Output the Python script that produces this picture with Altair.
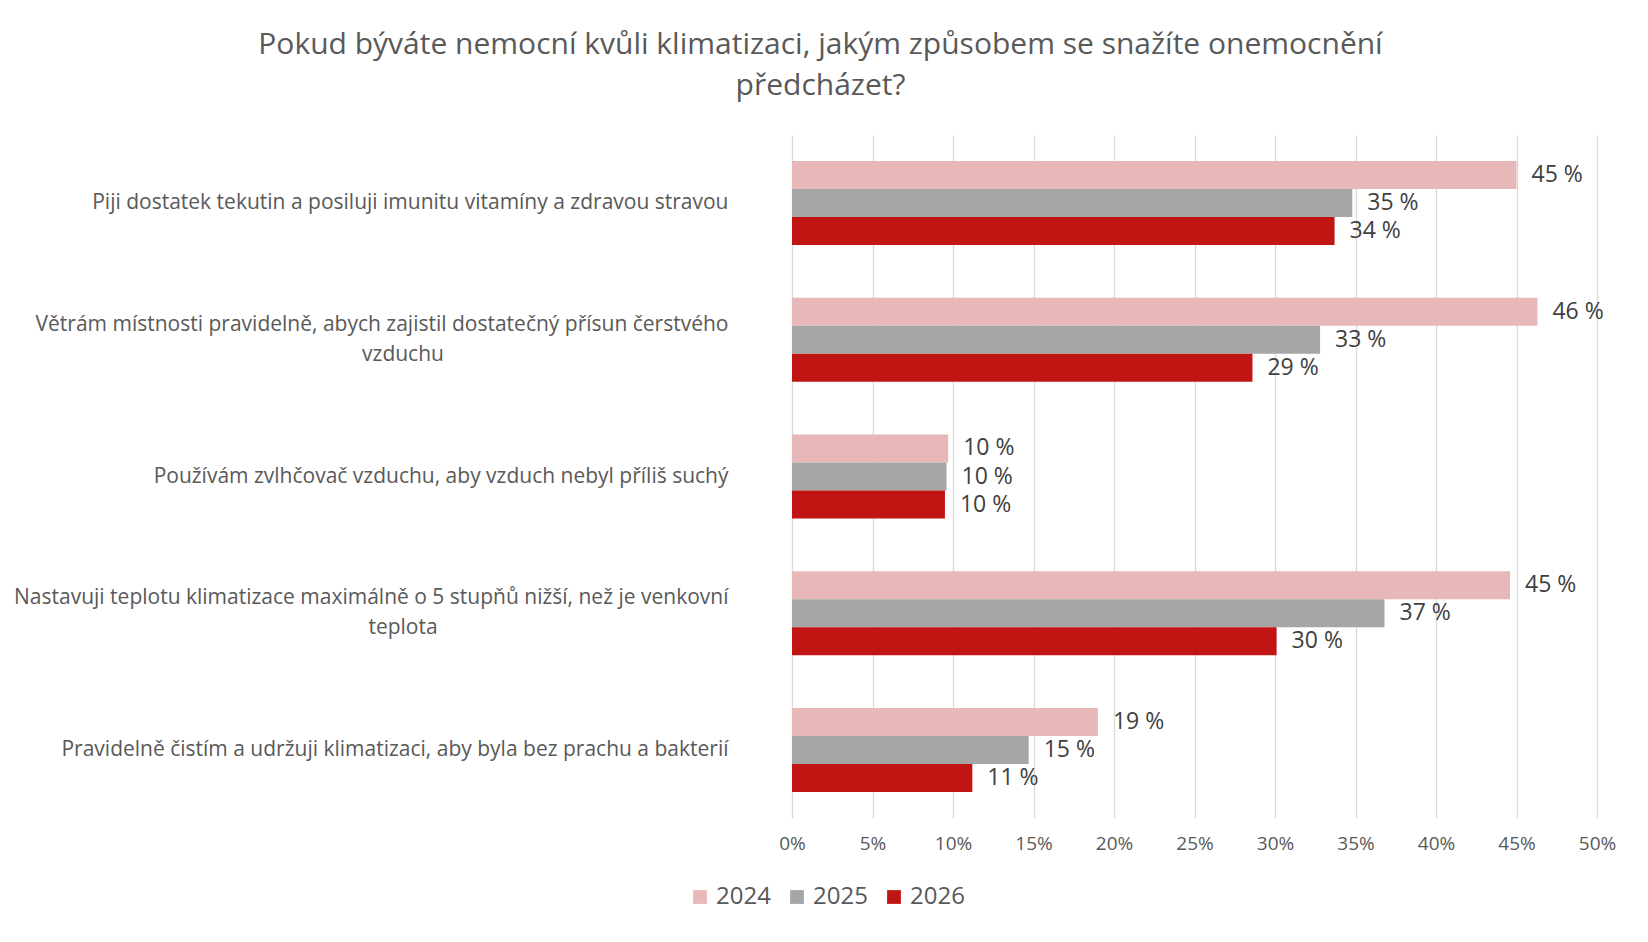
import altair as alt
import pandas as pd

# Kategorie odpovědí: první a druhý řádek popisku
kategorie = [
    "Piji dostatek tekutin a posiluji imunitu vitamíny a zdravou stravou",
    "Větrám místnosti pravidelně, abych zajistil dostatečný přísun čerstvého",
    "Používám zvlhčovač vzduchu, aby vzduch nebyl příliš suchý",
    "Nastavuji teplotu klimatizace maximálně o 5 stupňů nižší, než je venkovní",
    "Pravidelně čistím a udržuji klimatizaci, aby byla bez prachu a bakterií",
]
druhy_radek = ["", "vzduchu", "", "teplota", ""]
roky = ["2024", "2025", "2026"]
barvy = ["#E8B8B8", "#A6A6A6", "#C01513"]

# Hodnoty v procentech
hodnoty_2024 = [45.0, 46.3, 9.7, 44.6, 19.0]
hodnoty_2025 = [34.8, 32.8, 9.6, 36.8, 14.7]
hodnoty_2026 = [33.7, 28.6, 9.5, 30.1, 11.2]

osa_x = [0, 5, 10, 15, 20, 25, 30, 35, 40, 45, 50]

rows = []
for rok, hodnoty in zip(roky, [hodnoty_2024, hodnoty_2025, hodnoty_2026]):
    for kat, h in zip(kategorie, hodnoty):
        rows.append({"kategorie": kat, "rok": rok, "hodnota": h})
df = pd.DataFrame(rows)

radky = pd.DataFrame({"kategorie": kategorie, "radek2": druhy_radek})
radky = radky[radky["radek2"] != ""]

# dvouřádkové popisky: první řádek na ose posunut nahoru, druhý jako text
dvouradkove = "|".join(radky["kategorie"])
test_dvou = "indexof('" + dvouradkove + "', datum.label) >= 0"

y_enc = alt.Y(
    "kategorie:N",
    sort=kategorie,
    scale=alt.Scale(paddingInner=0.385, paddingOuter=0.19),
    axis=alt.Axis(
        title=None,
        domain=False,
        ticks=False,
        labelFontSize=21,
        labelColor="#595959",
        labelPadding=64,
        labelLimit=900,
        labelOffset={"condition": {"test": test_dvou, "value": -15}, "value": 0},
    ),
)

base = alt.Chart(df).transform_calculate(
    popisek="format(datum.hodnota, '.0f') + ' %'"
).encode(
    y=y_enc,
    yOffset=alt.YOffset("rok:N", sort=roky, scale=alt.Scale(paddingInner=0, paddingOuter=0)),
    x=alt.X(
        "hodnota:Q",
        scale=alt.Scale(domain=[0, 50], nice=False),
        axis=alt.Axis(
            title=None,
            values=osa_x,
            labelExpr="datum.value + '%'",
            labelFlush=False,
            domain=False,
            ticks=False,
            grid=True,
            gridColor="#D9D9D9",
            gridWidth=1.3,
            labelFontSize=19,
            labelColor="#595959",
            labelPadding=16,
        ),
    ),
)

bars = base.mark_bar().encode(
    color=alt.Color(
        "rok:N",
        sort=roky,
        scale=alt.Scale(domain=roky, range=barvy),
        legend=alt.Legend(
            title=None,
            orient="none",
            direction="horizontal",
            legendX=-104,
            legendY=750,
            symbolType="square",
            symbolSize=190,
            symbolStrokeWidth=0,
            labelFontSize=24,
            labelColor="#595959",
            columnPadding=14,
            labelOffset=4,
        ),
    )
)

text = base.mark_text(
    align="left",
    baseline="middle",
    dx=15,
    fontSize=23,
    color="#404040",
).encode(text="popisek:N")

druhe = alt.Chart(radky).mark_text(
    align="center",
    baseline="middle",
    dy=15,
    fontSize=21,
    color="#595959",
).encode(
    y=alt.Y("kategorie:N", sort=kategorie),
    x=alt.value(-389),
    text="radek2:N",
)

chart = (bars + text + druhe).properties(
    width=805,
    height=683,
    autosize=alt.AutoSizeParams(type="none"),
    padding={"left": 784, "top": 127, "right": 43, "bottom": 110},
    title=alt.TitleParams(
        text=[
            "Pokud býváte nemocní kvůli klimatizaci, jakým způsobem se snažíte onemocnění",
            "předcházet?",
        ],
        anchor="middle",
        dx=-374,
        fontSize=30,
        fontWeight="normal",
        color="#595959",
        lineHeight=41,
        offset=34,
    ),
).configure(
    font="Open Sans",
    background="white",
).configure_view(
    stroke=None
)

chart.save("out.html", embed_options={"renderer": "svg", "actions": False})
